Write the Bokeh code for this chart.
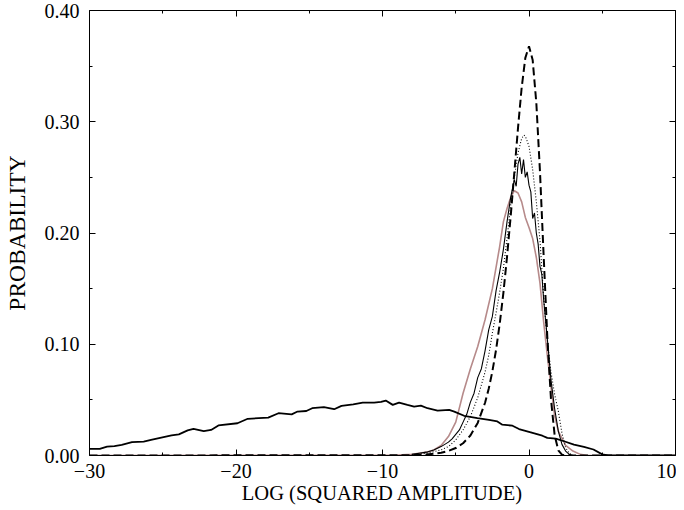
from bokeh.plotting import figure
from bokeh.models import LinearAxis, FixedTicker, Range1d
from bokeh.embed import file_html
from bokeh.resources import INLINE

# ---- data ----
broad_x = [-30, -29.3, -28.8, -28.3, -27.8, -27.1, -26.3, -25.8, -25.1, -24.4, -23.9, -23.3,
           -22.9, -22.2, -21.7, -21.2, -19.9, -19.2, -17.8, -17.1, -16.2, -15.8, -15.2, -14.8,
           -14.0, -13.3, -12.8, -12.0, -11.35, -10.57, -10.1, -9.78, -9.3, -8.87, -8.3, -7.84,
           -7.38, -6.93, -6.24, -5.45, -5.1, -4.43, -3.52, -2.73, -2.16, -1.82, -1.13, -0.68,
           0.12, 0.91, 1.25, 1.82, 2.39, 3.07, 3.75, 4.4, 5.0, 5.4, 10]
broad_y = [0.006, 0.006, 0.008, 0.0085, 0.0095, 0.012, 0.0125, 0.014, 0.016, 0.018, 0.019, 0.0226,
           0.024, 0.022, 0.023, 0.027, 0.029, 0.033, 0.034, 0.038, 0.037, 0.0395, 0.040, 0.0425,
           0.0434, 0.0416, 0.0446, 0.046, 0.0476, 0.0476, 0.0482, 0.0494, 0.0455, 0.0476, 0.0455, 0.044,
           0.0449, 0.0425, 0.0404, 0.041, 0.0395, 0.0357, 0.0336, 0.032, 0.0306, 0.0277, 0.0268, 0.0238,
           0.0208, 0.0178, 0.0158, 0.0152, 0.0128, 0.0098, 0.0078, 0.0054, 0.001, 0.0, 0.0]

brown_x = [-30, -9, -8, -7.5, -7, -6.5, -6, -5.5, -5, -4.5, -4, -3.5, -3, -2.5, -2, -1.75, -1.5,
           -1.25, -1, -0.75, -0.5, -0.25, 0, 0.25, 0.5, 0.75, 1, 1.25, 1.5, 1.75, 2, 2.5, 3, 3.5, 4, 10]
brown_y = [0.0, 0.0005, 0.001, 0.002, 0.003, 0.005, 0.009, 0.017, 0.030, 0.056, 0.078, 0.098, 0.122,
           0.150, 0.188, 0.210, 0.222, 0.232, 0.238, 0.236, 0.228, 0.214, 0.205, 0.195, 0.178, 0.155,
           0.120, 0.090, 0.062, 0.036, 0.022, 0.009, 0.004, 0.001, 0.0, 0.0]

noisy_x = [-8, -7.5, -7, -6.5, -6, -5.75, -5.5, -5.25, -5, -4.75, -4.5, -4.25, -4, -3.75, -3.5,
           -3.25, -3, -2.75, -2.5, -2.25, -2, -1.75, -1.5, -1.25, -1, -0.875, -0.75, -0.625, -0.5,
           -0.375, -0.25, -0.125, 0, 0.125, 0.25, 0.375, 0.5, 0.625, 0.75, 0.875, 1, 1.25, 1.5,
           1.75, 2, 2.25, 2.5, 2.75, 3]
noisy_y = [0.001, 0.002, 0.003, 0.005, 0.008, 0.010, 0.012, 0.015, 0.019, 0.023, 0.030, 0.037,
           0.048, 0.056, 0.070, 0.078, 0.094, 0.113, 0.125, 0.148, 0.165, 0.185, 0.210, 0.232,
           0.248, 0.242, 0.262, 0.268, 0.253, 0.266, 0.250, 0.255, 0.243, 0.237, 0.213, 0.218,
           0.200, 0.190, 0.170, 0.163, 0.140, 0.105, 0.068, 0.042, 0.022, 0.010, 0.004, 0.001, 0.0]

dotted_x = [-8, -7, -6, -5.5, -5, -4.5, -4, -3.5, -3, -2.75, -2.5, -2.25, -2, -1.75, -1.5, -1.25,
            -1, -0.75, -0.5, -0.35, -0.25, 0, 0.25, 0.5, 0.75, 1, 1.25, 1.5, 1.75, 2, 2.25, 2.5,
            2.75, 3]
dotted_y = [0.0005, 0.002, 0.005, 0.008, 0.014, 0.023, 0.035, 0.052, 0.075, 0.090, 0.110, 0.128,
            0.147, 0.168, 0.195, 0.225, 0.250, 0.272, 0.285, 0.288, 0.287, 0.278, 0.257, 0.228,
            0.193, 0.142, 0.105, 0.075, 0.055, 0.040, 0.020, 0.007, 0.002, 0.0]

dashed_x = [-30, -8, -7, -6, -5.5, -5, -4.5, -4, -3.5, -3, -2.75, -2.5, -2.25, -2, -1.75, -1.5,
            -1.25, -1, -0.75, -0.5, -0.25, 0, 0.25, 0.5, 0.75, 1, 1.25, 1.5, 1.75, 2, 2.25, 2.5,
            3, 10]
dashed_y = [0.0, 0.0003, 0.0009, 0.0025, 0.0041, 0.0067, 0.0110, 0.0180, 0.0293, 0.0474, 0.0600,
            0.0756, 0.0949, 0.1182, 0.1460, 0.1785, 0.2151, 0.2546, 0.2945, 0.3307, 0.3574, 0.3679,
            0.3556, 0.3170, 0.2549, 0.1794, 0.1064, 0.0507, 0.0182, 0.0046, 0.0007, 0.0001, 0.0, 0.0]

x_ticks = [-30, -20, -10, 0, 10]
x_minor = [-25, -15, -5, 5]
x_labels = ["\u221230", "\u221220", "\u221210", "0", "10"]
y_ticks = [0.0, 0.1, 0.2, 0.3, 0.4]
y_minor = [0.05, 0.15, 0.25, 0.35]
y_labels = ["0.00", "0.10", "0.20", "0.30", "0.40"]

FONT = "Liberation Serif"

p = figure(width=676, height=507, x_range=Range1d(-30, 10), y_range=Range1d(0, 0.4),
           output_backend="svg", toolbar_location=None,
           min_border_left=80, min_border_right=1, min_border_top=10, min_border_bottom=52,
           x_axis_location=None, y_axis_location=None)
p.grid.visible = False
p.outline_line_color = None
p.background_fill_color = "white"
p.border_fill_color = "white"

xt = FixedTicker(ticks=x_ticks, minor_ticks=x_minor)
yt = FixedTicker(ticks=y_ticks, minor_ticks=y_minor)


def style(ax, show_labels):
    ax.major_tick_in = 6
    ax.major_tick_out = 0
    ax.minor_tick_in = 3
    ax.minor_tick_out = 0
    ax.axis_line_color = "black"
    ax.axis_line_width = 1
    ax.major_tick_line_color = "black"
    ax.minor_tick_line_color = "black"
    if show_labels:
        ax.major_label_text_font = FONT
        ax.major_label_text_font_size = "20px"
        ax.major_label_text_color = "black"
        ax.axis_label_text_font = FONT
        ax.axis_label_text_font_style = "normal"
        ax.axis_label_text_color = "black"
    else:
        ax.major_label_text_color = None
        ax.major_label_text_font_size = "1px"
        ax.major_label_standoff = 0


xb = LinearAxis(ticker=xt, axis_label="LOG (SQUARED AMPLITUDE)",
                major_label_overrides={t: l for t, l in zip(x_ticks, x_labels)})
style(xb, True)
xb.axis_label_text_font_size = "20.5px"
xb.major_label_standoff = 8
xb.axis_label_standoff = 1
p.add_layout(xb, "below")

xa = LinearAxis(ticker=xt)
style(xa, False)
p.add_layout(xa, "above")

yl = LinearAxis(ticker=yt, axis_label="PROBABILITY",
                major_label_overrides={t: l for t, l in zip(y_ticks, y_labels)})
style(yl, True)
yl.axis_label_text_font_size = "23.5px"
yl.major_label_standoff = 10
yl.axis_label_standoff = 12
p.add_layout(yl, "left")

yr = LinearAxis(ticker=yt)
style(yr, False)
p.add_layout(yr, "right")

p.line(brown_x, brown_y, line_color="#b68a8a", line_width=1.6)
p.line(broad_x, broad_y, line_color="black", line_width=1.8)
p.line(noisy_x, noisy_y, line_color="black", line_width=1.1)
p.line(dotted_x, dotted_y, line_color="black", line_width=1.1, line_dash="1 2")
p.line(dashed_x, dashed_y, line_color="black", line_width=2, line_dash="8 4")

open("out.html", "w").write(file_html(p, INLINE))
